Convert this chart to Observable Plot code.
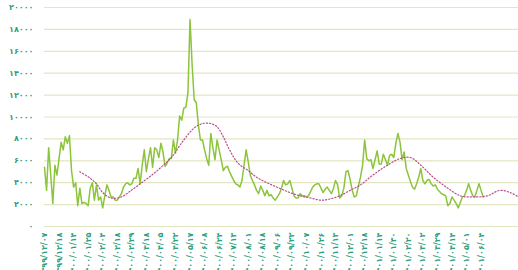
<!DOCTYPE html>
<html>
<head>
<meta charset="utf-8">
<script src="https://cdn.jsdelivr.net/npm/d3@7"></script>
<script src="https://cdn.jsdelivr.net/npm/@observablehq/plot@0.6"></script>
<style>
  html, body { margin: 0; padding: 0; background: #ffffff; }
</style>
</head>
<body>
<div id="chart"></div>
<script>
// x-axis tick labels (Persian calendar dates), one every 7 trading days
const xLabels = [
  "۱۳۹۹/۱۲/۰۷","۱۳۹۹/۱۲/۱۸","۱۴۰۰/۰۱/۱۴","۱۴۰۰/۰۱/۲۵","۱۴۰۰/۰۲/۰۴","۱۴۰۰/۰۲/۱۸",
  "۱۴۰۰/۰۲/۲۹","۱۴۰۰/۰۳/۱۸","۱۴۰۰/۰۴/۰۵","۱۴۰۰/۰۴/۲۲","۱۴۰۰/۰۵/۱۷","۱۴۰۰/۰۶/۰۸",
  "۱۴۰۰/۰۶/۲۴","۱۴۰۰/۰۷/۱۳","۱۴۰۰/۰۸/۰۱","۱۴۰۰/۰۸/۱۸","۱۴۰۰/۰۹/۰۶","۱۴۰۰/۰۹/۲۲",
  "۱۴۰۰/۱۰/۰۷","۱۴۰۰/۱۰/۲۶","۱۴۰۰/۱۱/۱۳","۱۴۰۰/۱۲/۰۱","۱۴۰۰/۱۲/۱۸","۱۴۰۱/۰۱/۱۴",
  "۱۴۰۱/۰۱/۳۰","۱۴۰۱/۰۲/۲۰","۱۴۰۱/۰۳/۰۲","۱۴۰۱/۰۳/۲۹","۱۴۰۱/۰۴/۱۴","۱۴۰۱/۰۵/۰۱",
  "۱۴۰۱/۰۶/۰۴"
];
const daysPerLabel = 7;
const xTicks = xLabels.map((_, k) => k * daysPerLabel);

// y-axis ticks
const yTicks = [0, 2000, 4000, 6000, 8000, 10000, 12000, 14000, 16000, 18000, 20000];

// daily series (index = trading day)
const price = [
  5400,3300,7200,4700,2100,5600,4700,6200,7700,7000,
  8200,7600,8300,5100,3600,4000,1900,3500,2100,2200,
  2100,1900,3500,4000,2400,3800,2400,2700,1700,2800,
  3800,3300,2700,2700,2400,2400,2700,3000,3600,3900,
  4000,3800,3900,4400,4400,5300,3900,5600,7000,5000,
  6200,7200,5400,7200,7000,6300,7600,6800,5500,5800,
  6200,6200,7900,6700,7900,10100,9700,10800,10900,12200,
  18900,14800,11600,11300,9300,7900,7900,7000,6200,5600,
  8500,7200,6100,7900,7000,6100,5100,5400,5500,5000,
  4600,4200,3900,3800,3600,4200,5600,7000,5900,4700,
  4200,3800,3300,3000,3700,3300,2800,3300,2800,2900,
  2600,2400,2700,3000,3500,4200,3800,3900,4200,3500,
  2800,2600,2600,3000,2800,2800,2700,2800,3200,3600,
  3800,3900,3900,3500,3100,3400,3600,3300,3000,3500,
  4200,3800,2600,2800,3500,5000,5100,4300,3300,2700,
  2800,3700,4500,5600,7900,6200,6000,6100,5300,6100,
  6900,5700,5700,6600,6100,5600,6500,6600,6300,7600,
  8500,7700,6100,6800,5300,4700,4100,3600,3400,3900,
  4500,5300,4200,3900,4200,4300,3900,3700,3800,3400,
  3200,3000,2900,2800,1900,2100,2700,2400,2100,1700,
  2200,2700,2800,3300,3900,3300,2800,2700,3300,3900,
  3300,2700
];

// moving-average trend line (read at sampled days)
const maDay = [17,22,25,28,32,37,41,46,51,56,61,67,72,76,80,83,86,89,93,98,102,107,113,118,123,128,133,137,142,147,152,158,165,171,176,181,187,194,200,206,213,219,224,228];
const maVal = [5000,4400,3900,3100,2600,2700,3200,3900,4600,5400,6300,7900,9000,9400,9400,9100,8200,7000,5800,5100,4500,4000,3500,3100,2800,2600,2400,2500,2800,3300,3800,4700,5600,6200,6300,5600,4500,3500,2800,2700,2800,3300,3100,2700];

const faDigits = "۰۱۲۳۴۵۶۷۸۹";
const toFa = (n) => String(n).replace(/\d/g, (d) => faDigits[+d]);

const series = price.map((v, i) => ({day: i, value: v}));
const trend = maDay.map((d, i) => ({day: d, value: maVal[i]}));

const chart = Plot.plot({
  width: 518,
  height: 270,
  marginLeft: 44,
  marginRight: 0,
  marginTop: 7,
  marginBottom: 44,
  style: {
    fontFamily: "'DejaVu Sans', sans-serif",
    fontWeight: "bold",
    fontSize: "8px",
    color: "#2f9f82",
    background: "#ffffff",
    overflow: "visible"
  },
  x: {
    type: "linear",
    domain: [0, 228],
    ticks: xTicks,
    tickFormat: (d) => xLabels[Math.round(d / daysPerLabel)],
    tickRotate: -90,
    tickSize: 0,
    tickPadding: 6,
    label: null
  },
  y: {
    domain: [0, 20000],
    ticks: yTicks,
    tickFormat: toFa,
    tickSize: 0,
    tickPadding: 11,
    label: null
  },
  marks: [
    Plot.ruleY(yTicks, {stroke: "#e3e6c3", strokeWidth: 1.2}),
    Plot.line(series, {x: "day", y: "value", stroke: "#8cc43c", strokeWidth: 1.5, curve: "linear"}),
    Plot.line(trend, {x: "day", y: "value", stroke: "#b8508a", strokeWidth: 1.2, strokeDasharray: "1.2,2", curve: "catmull-rom"})
  ]
});
document.getElementById("chart").appendChild(chart);
</script>
</body>
</html>
